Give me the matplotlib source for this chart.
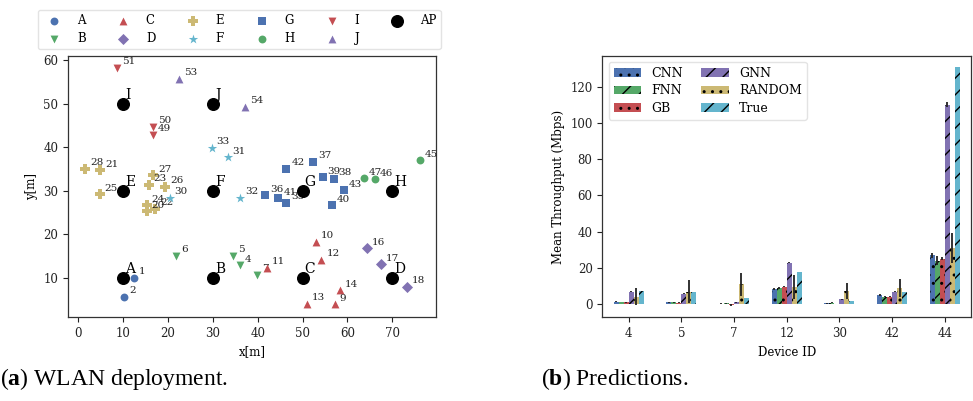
import numpy as np
import matplotlib
matplotlib.use('Agg')
import matplotlib.pyplot as plt

plt.rcParams['font.family'] = 'DejaVu Serif'
plt.rcParams['font.size'] = 8.5
plt.rcParams['mathtext.fontset'] = 'custom'
plt.rcParams['mathtext.rm'] = 'Liberation Serif'
plt.rcParams['mathtext.bf'] = 'Liberation Serif:bold'
plt.rcParams['hatch.linewidth'] = 1.0

# ---- (a) WLAN deployment: stations and access points
station_id = [1, 2, 4, 5, 6, 7, 9, 10, 11, 12, 13, 14, 16, 17, 18,
              20, 21, 22, 23, 24, 25, 26, 27, 28, 30, 31, 32, 33,
              35, 36, 37, 38, 39, 40, 41, 42, 43, 45, 46, 47, 49, 50, 51, 53, 54]
station_x = [12.5, 10.2, 36.0, 34.5, 21.8, 39.8, 57.2, 53.0, 42.1, 54.2, 51.0, 58.3, 64.4, 67.5, 73.2,
             15.2, 4.9, 17.2, 15.7, 15.2, 4.8, 19.4, 16.7, 1.5, 20.4, 33.3, 36.1, 29.7,
             46.4, 41.7, 52.3, 56.9, 54.5, 56.5, 44.6, 46.4, 59.3, 76.1, 66.1, 63.7, 16.7, 16.6, 8.6, 22.5, 37.1]
station_y = [10.0, 5.7, 12.9, 15.1, 15.1, 10.7, 3.9, 18.3, 12.3, 14.2, 4.1, 7.2, 16.8, 13.2, 8.0,
             25.4, 34.8, 25.9, 31.4, 26.7, 29.3, 31.0, 33.6, 35.1, 28.4, 37.7, 28.4, 39.9,
             27.3, 29.0, 36.7, 32.8, 33.2, 26.7, 28.3, 35.1, 30.1, 37.0, 32.7, 32.9, 42.9, 44.8, 58.3, 55.8, 49.4]
station_group = ['A', 'A', 'B', 'B', 'B', 'B', 'C', 'C', 'C', 'C', 'C', 'C', 'D', 'D', 'D',
                 'E', 'E', 'E', 'E', 'E', 'E', 'E', 'E', 'E', 'F', 'F', 'F', 'F',
                 'G', 'G', 'G', 'G', 'G', 'G', 'G', 'G', 'G', 'H', 'H', 'H', 'I', 'I', 'I', 'J', 'J']

ap_names = ['A', 'B', 'C', 'D', 'E', 'F', 'G', 'H', 'I', 'J']
ap_x = [10, 30, 50, 70, 10, 30, 50, 70, 10, 30]
ap_y = [10, 10, 10, 10, 30, 30, 30, 30, 50, 50]

group_marker = ['o', 'v', '^', 'D', 'P', '*', 's', 'o', 'v', '^']
group_color = ['#4C72B0', '#55A868', '#C44E52', '#8172B2', '#CCB974',
               '#64B5CD', '#4C72B0', '#55A868', '#C44E52', '#8172B2']
group_size = [32, 32, 32, 32, 55, 50, 32, 32, 32, 32]

# ---- (b) Predictions
devices = ['4', '5', '7', '12', '30', '42', '44']
models = ['CNN', 'FNN', 'GB', 'GNN', 'RANDOM', 'True']
cnn = [1.5, 1.2, 0.3, 8.5, 0.6, 5.0, 27.0]
fnn = [1.2, 1.0, 0.5, 9.0, 0.8, 4.2, 24.0]
gb = [1.0, 0.8, -0.5, 9.7, 0.2, 4.2, 25.0]
gnn = [7.0, 5.8, 1.0, 23.0, 2.8, 6.8, 110.0]
rnd = [4.2, 6.8, 11.0, 9.5, 7.2, 9.0, 31.0]
true = [7.3, 6.8, 3.5, 17.6, 2.0, 7.0, 131.0]
cnn_err = [0.3, 0.3, 0.2, 0.5, 0.2, 0.5, 1.5]
fnn_err = [0.2, 0.2, 0.3, 0.4, 0.3, 0.3, 2.5]
gb_err = [0.2, 0.2, 0.4, 0.4, 0.2, 0.3, 0.8]
gnn_err = [0.3, 0.4, 0.3, 0.5, 0.2, 0.3, 1.5]
rnd_err = [4.6, 6.3, 6.2, 6.6, 4.4, 4.9, 8.5]
true_err = [0, 0, 0, 0, 0, 0, 0]

bar_colors = ['#4C72B0', '#55A868', '#C44E52', '#8172B2', '#CCB974', '#64B5CD']
bar_hatch = ['..', '//', '..', '//', '..', '//']

fig = plt.figure(figsize=(9.73, 4.01), dpi=100)
ax1 = fig.add_axes([0.0699, 0.2095, 0.378, 0.6505])
ax2 = fig.add_axes([0.619, 0.2087, 0.379, 0.6523])

handles = []
for g, m, c, s in zip(ap_names, group_marker, group_color, group_size):
        idx = [k for k, gg in enumerate(station_group) if gg == g]
        h = ax1.scatter([station_x[k] for k in idx], [station_y[k] for k in idx],
                        marker=m, color=c, s=s, linewidths=0, zorder=3, label=g)
        handles.append(h)
        #number labels next to each station
        for k in idx:
                ax1.annotate(str(station_id[k]), (station_x[k], station_y[k]),
                             xytext=(3.5, 1), textcoords='offset points',
                             ha='left', va='bottom', fontsize=7.5, color='#222222')
h = ax1.scatter(ap_x, ap_y, marker='o', color='black', s=70, zorder=4, label='AP')
handles.append(h)
for n, x, y in zip(ap_names, ap_x, ap_y):
        ax1.annotate(n, (x, y), xytext=(1.5, 1.5), textcoords='offset points',
                     ha='left', va='bottom', fontsize=10, color='black')

ax1.set_xlim(-2.3, 79.7)
ax1.set_ylim(1.0, 61.0)
ax1.set_xticks(range(0, 80, 10))
ax1.set_yticks(range(10, 70, 10))
ax1.set_xlabel('x[m]')
ax1.set_ylabel('y[m]')

fig.legend(handles, [hh.get_label() for hh in handles], ncol=6, loc='lower left',
           bbox_to_anchor=(0.039, 0.877), fontsize=8.5, frameon=True,
           edgecolor='#dddddd', fancybox=True, columnspacing=2.2,
           handletextpad=0.9, borderpad=0.4, labelspacing=0.35, borderaxespad=0)

# bar chart
values = [cnn, fnn, gb, gnn, rnd, true]
errors = [cnn_err, fnn_err, gb_err, gnn_err, rnd_err, true_err]
x = np.arange(len(devices))
w = 0.095
for j in range(len(models)):
        ax2.bar(x + (j - 2.5) * w, values[j], w, yerr=errors[j], color=bar_colors[j],
                edgecolor='black', linewidth=0, hatch=bar_hatch[j], label=models[j],
                error_kw=dict(ecolor='#222222', elinewidth=1.3, capsize=0))
ax2.set_xlim(-0.5, 6.5)
ax2.set_ylim(-7.2, 137)
ax2.set_xticks(x)
ax2.set_xticklabels(devices)
ax2.set_yticks(range(0, 140, 20))
ax2.set_xlabel('Device ID')
ax2.set_ylabel('Mean Throughput (Mbps)')
ax2.legend(ncol=2, loc='upper left', fontsize=9, edgecolor='#dddddd',
           handlelength=2.2, columnspacing=1.5, borderaxespad=0.5, labelspacing=0.35)

for ax in (ax1, ax2):
        ax.tick_params(direction='out', length=3.5, width=0.8, colors='#222222')
        for sp in ax.spines.values():
                sp.set_color('#333333')
                sp.set_linewidth(0.9)

fig.text(0.0, 0.055, r'($\mathbf{a}$) WLAN deployment.', fontsize=17,
         family='Liberation Serif', va='center', ha='left')
fig.text(0.556, 0.055, r'($\mathbf{b}$) Predictions.', fontsize=17,
         family='Liberation Serif', va='center', ha='left')

fig.savefig('out.png', dpi=100)
